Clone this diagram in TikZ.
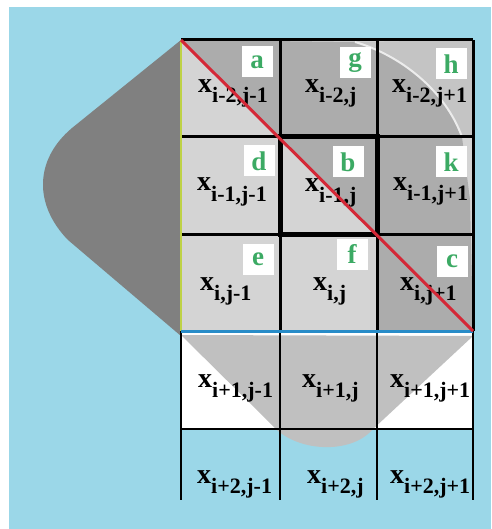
\documentclass[tikz,border=0pt]{standalone}
\usepackage{fontspec}
\setmainfont{Liberation Serif}
\definecolor{bgblue}{RGB}{155,215,232}
\definecolor{lgreen}{RGB}{60,170,100}
\definecolor{redline}{RGB}{212,40,55}
\definecolor{blueline}{RGB}{40,140,200}
\definecolor{ygline}{RGB}{190,210,70}
\definecolor{leftgray}{RGB}{128,128,128}
\definecolor{botgray}{RGB}{192,192,192}
\definecolor{lightstip}{RGB}{212,212,212}
\definecolor{darkstip}{RGB}{172,172,172}
\newcommand{\xsub}[1]{x\raisebox{-10pt}{\fontsize{22}{22}\selectfont #1}}
\begin{document}
\begin{tikzpicture}[x=1pt,y=-1pt,
  lbl/.style={fill=white, text=lgreen, font=\fontsize{27}{27}\selectfont\bfseries, minimum width=31pt, minimum height=31pt, inner sep=0pt},
  var/.style={font=\fontsize{28}{28}\selectfont\bfseries, inner sep=0pt, anchor=base west},
  gridline/.style={black, line width=3pt},
  lowline/.style={black, line width=2.5pt}]
\useasboundingbox (0,0) rectangle (491,529);
\fill[white] (0,0) rectangle (491,529);
\fill[bgblue] (9,7) rectangle (491,529);
% left gray shape
\fill[leftgray] (181,40) -- (72,128) .. controls (34,160) and (34,205) .. (68,240) -- (181,336) -- cycle;
% top region fills
\fill[lightstip] (181,40) rectangle (473,331);
\fill[darkstip] (181,40) -- (355,42) .. controls (400,55) and (445,90) .. (462,137) -- (470,200) -- (473,331) -- (377,331) -- (377,234) -- cycle;
\fill[lightstip!60!darkstip] (355,42) .. controls (400,55) and (445,90) .. (462,137) -- (473,137) -- (473,40) -- cycle;
\draw[white!85!gray, line width=2pt] (355,42) .. controls (400,55) and (445,90) .. (462,137);
% fourth row white, fifth row background
\fill[white] (181,331) rectangle (473,429);
\fill[bgblue] (181,429) rectangle (473,500);
% bottom gray shape
\fill[botgray] (181,335) -- (272,425) .. controls (295,452) and (350,455) .. (372,430) -- (473,336) -- cycle;
% grid
\draw[gridline] (181,40) -- (473,40);
\draw[gridline] (181,137) -- (473,137);
\draw[gridline] (181,234) -- (473,234);
\draw[gridline] (280,40) -- (280,331);
\draw[gridline] (377,40) -- (377,331);
\draw[gridline] (473,40) -- (473,331);
\draw[black, line width=5pt] (280,137) rectangle (377,234);
\draw[lowline] (181,331) -- (181,500);
\draw[lowline] (280,331) -- (280,500);
\draw[lowline] (377,331) -- (377,500);
\draw[lowline] (473,331) -- (473,500);
\draw[lowline] (181,429) -- (473,429);
% letter boxes
\node[lbl] (la) at (257,62) {a};
\node[lbl] (lg) at (355,63) {g};
\node[lbl] (lh) at (451,64) {h};
\node[lbl] (ld) at (259,161) {d};
\node[lbl] (lb) at (348,162) {b};
\node[lbl] (lk) at (451,162) {k};
\node[lbl] (le) at (258,259) {e};
\node[lbl] (lf) at (352,254) {f};
\node[lbl] (lc) at (452,261) {c};
% variables
\node[var] (v11) at (198,93) {\xsub{i-2,j-1}};
\node[var] (v12) at (305,93) {\xsub{i-2,j}};
\node[var] (v13) at (392,93) {\xsub{i-2,j+1}};
\node[var] (v21) at (197,191) {\xsub{i-1,j-1}};
\node[var] (v22) at (305,192) {\xsub{i-1,j}};
\node[var] (v23) at (393,190) {\xsub{i-1,j+1}};
\node[var] (v31) at (200,290) {\xsub{i,j-1}};
\node[var] (v32) at (313,290) {\xsub{i,j}};
\node[var] (v33) at (400,290) {\xsub{i,j+1}};
\node[var] (v41) at (198,387) {\xsub{i+1,j-1}};
\node[var] (v42) at (302,387) {\xsub{i+1,j}};
\node[var] (v43) at (390,387) {\xsub{i+1,j+1}};
\node[var] (v51) at (197,483) {\xsub{i+2,j-1}};
\node[var] (v52) at (307,483) {\xsub{i+2,j}};
\node[var] (v53) at (390,483) {\xsub{i+2,j+1}};
% coloured lines
\coordinate (tl) at (181,40);
\coordinate (br) at (473,331);
\coordinate (bl) at (181,331);
\draw[ygline, line width=2.5pt] (tl) -- (bl);
\draw[blueline, line width=3pt] (bl) -- (br);
\draw[redline, line width=3pt] (tl) -- (br);
\end{tikzpicture}
\end{document}
